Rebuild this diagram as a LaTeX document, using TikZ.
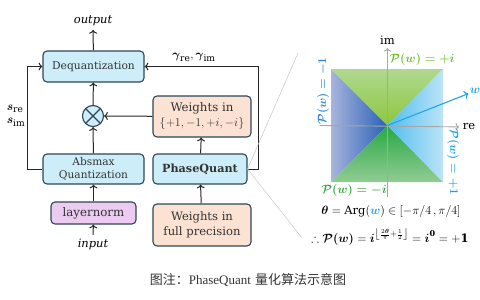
\documentclass[tikz,border=0pt]{standalone}
\usepackage{fontspec}
\usepackage{amsmath,amssymb}
\usepackage{tikz}
\usetikzlibrary{positioning, arrows.meta, calc}
\usepackage{xcolor}
\setmainfont{DejaVu Serif}
\newfontfamily\cjk{Noto Sans CJK SC}
\newfontfamily\capserif{Liberation Serif}
\definecolor{qblue}{HTML}{CDEDF9}
\definecolor{qpeach}{HTML}{FBE2D3}
\definecolor{qpink}{HTML}{EBCBEF}
\definecolor{qedge}{HTML}{2D4756}
\definecolor{wblue}{HTML}{1FA6E6}
\definecolor{pgreen}{HTML}{6CBF2E}
\definecolor{pdgreen}{HTML}{37A83C}
\definecolor{pblue}{HTML}{2F86D6}
\definecolor{leftedge}{HTML}{A8B4DC}
\definecolor{leftmid}{HTML}{2860B8}
\definecolor{topedge}{HTML}{B0D890}
\definecolor{topmid}{HTML}{8CC83C}
\definecolor{botmid}{HTML}{28A844}
\definecolor{botedge}{HTML}{92CC94}
\definecolor{rightmid}{HTML}{50BEEE}
\definecolor{rightedge}{HTML}{BCE3F7}

\begin{document}
\begin{tikzpicture}[x=1pt, y=-1pt, line width=0.9pt,
    box/.style={draw=qedge, line width=1.1pt, rounded corners=4pt, align=center,
                inner sep=0pt, text=black!80},
    bluebox/.style={box, fill=qblue},
    peachbox/.style={box, fill=qpeach},
    pinkbox/.style={box, fill=qpink},
    flow/.style={->, color=black!85, line width=1pt},
    plabel/.style={font=\fontsize{11.5}{13}\selectfont}]
      \useasboundingbox (0,0) rectangle (480,300);
      % Left part: quantization flow
      \node[bluebox, minimum width=101pt, minimum height=31pt, font=\fontsize{10.7}{12}\selectfont]
            (deq) at (93.5,66.5) {Dequantization};
      \node[bluebox, minimum width=101pt, minimum height=30pt, font=\fontsize{10.6}{12.8}\selectfont]
            (absq) at (93.5,169) {Absmax\\Quantization};
      \node[pinkbox, minimum width=85pt, minimum height=22pt, font=\fontsize{11.8}{13}\selectfont]
            (ln) at (93.5,213) {layernorm};
      \node[circle, draw=qedge, fill=qblue, line width=1.1pt, minimum size=21pt,
            inner sep=0pt] (mul) at (93,116) {};
      \draw[color=qedge, line width=1.1pt] (mul.45) -- (mul.225) (mul.135) -- (mul.315);
      \node[font=\fontsize{11.5}{13}\selectfont\itshape] (out) at (93,21) {output};
      \node[font=\fontsize{11.5}{13}\selectfont\itshape] (in) at (93,244) {input};
      % Right part: weights
      \node[peachbox, minimum width=98pt, minimum height=41pt, font=\fontsize{11.8}{15}\selectfont]
            (wq) at (202,116.5) {Weights in\\{\fontsize{13}{15}\selectfont$\{+1,-1,+i,-i\}$}};
      \node[bluebox, minimum width=94pt, minimum height=30pt, font=\fontsize{11.2}{13}\selectfont\bfseries]
            (pq) at (200,169) {PhaseQuant};
      \node[peachbox, minimum width=98pt, minimum height=42pt, font=\fontsize{11.6}{15}\selectfont]
            (wfp) at (202,225) {Weights in\\full precision};
      \draw[flow] (deq) -- (out);
      \draw[flow] (mul) -- (deq);
      \draw[flow] (absq) -- (mul);
      \draw[flow] (ln) -- (absq);
      \draw[flow] (in) -- (ln);
      \draw[flow] (wq) -- (mul);
      \draw[flow] (pq) -- (wq);
      \draw[flow] (wfp) -- (pq);
      \draw[flow] (absq.west) -- ++(-15,0) |- (deq.west);
      \draw[flow] (pq.east) -- ++(11,0) |- (deq.east);
      \node[font=\fontsize{13}{14}\selectfont] (gam) at (194,57)
            {$\boldsymbol{\gamma}_{\mathrm{re}},\boldsymbol{\gamma}_{\mathrm{im}}$};
      \node[font=\fontsize{13}{14}\selectfont, align=left] (sc) at (16,116)
            {$\boldsymbol{s}_{\mathrm{re}}$\\[-1pt]$\boldsymbol{s}_{\mathrm{im}}$};
      % Zoom lines
      \coordinate (zt) at (298,53);
      \coordinate (zb) at (302,238);
      \draw[gray!45, line width=0.5pt] (pq.east) -- (zt);
      \draw[gray!45, line width=0.5pt] (pq.east) -- (zb);
      % Phase plane
      \coordinate (o) at (387.5,125.5);
      \shade[left color=leftedge, right color=leftmid]
            (331,69) -- (331,182) -- (o) -- cycle;
      \shade[top color=topedge, bottom color=topmid]
            (331,69) -- (443,69) -- (o) -- cycle;
      \shade[top color=botmid, bottom color=botedge]
            (331,182) -- (443,182) -- (o) -- cycle;
      \shade[left color=rightmid, right color=rightedge]
            (443,69) -- (443,182) -- (o) -- cycle;
      \coordinate (ax) at (320,125.5);
      \coordinate (ay) at (387.5,197);
      \node[font=\fontsize{11.5}{13}\selectfont] (re) at (469,127) {re};
      \node[font=\fontsize{11.5}{13}\selectfont] (im) at (387.5,40) {im};
      \draw[->, gray!70, line width=0.9pt] (ax) -- (re);
      \draw[->, gray!70, line width=0.9pt] (ay) -- (im);
      \node[font=\fontsize{12}{14}\selectfont, text=wblue, inner sep=1pt] (w) at (475,91) {$\boldsymbol{w}$};
      \draw[->, wblue, line width=1.1pt] (o) -- (w);
      \node[plabel, text=pgreen] (pi) at (422,59) {$\boldsymbol{\mathcal{P}(w)=+i}$};
      \node[plabel, text=pdgreen] (pmi) at (354,190) {$\boldsymbol{\mathcal{P}(w)=-i}$};
      \node[plabel, text=pblue, rotate=90] (pm1) at (323,91) {$\boldsymbol{\mathcal{P}(w)=-1}$};
      \node[plabel, text=wblue, rotate=-90] (pp1) at (453,162) {$\boldsymbol{\mathcal{P}(w)=+1}$};
      % Formulas
      \node[font=\fontsize{11.5}{13}\selectfont] (f1) at (391,211)
            {$\boldsymbol{\theta}=\mathrm{Arg}(\textcolor{wblue}{\boldsymbol{w}})\in[-\pi/4\,,\pi/4]$};
      \node[font=\fontsize{11.5}{13}\selectfont] (f2) at (390,237)
            {$\therefore\boldsymbol{\mathcal{P}(w)}=\boldsymbol{i}^{\left\lfloor\frac{2\boldsymbol{\theta}}{\pi}+\frac{1}{2}\right\rfloor}=\boldsymbol{i}^{\mathbf{0}}=+\mathbf{1}$};
      % Caption
      \node[font=\fontsize{13}{15}\selectfont, text=black!80] (cap) at (248,280)
            {{\cjk 图注：}{\capserif PhaseQuant} {\cjk 量化算法示意图}};
    \end{tikzpicture}
\end{document}
